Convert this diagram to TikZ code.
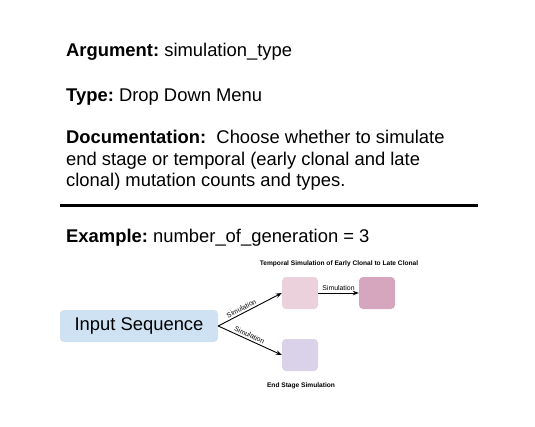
\documentclass[tikz,border=0pt]{standalone}
\usepackage{fontspec}
\setmainfont{Liberation Sans}
\usetikzlibrary{arrows.meta}
\definecolor{inblue}{HTML}{CFE2F3}
\definecolor{pinkA}{HTML}{EAD1DC}
\definecolor{pinkB}{HTML}{D5A6BD}
\definecolor{lilac}{HTML}{D9D2E9}
\begin{document}
\frenchspacing
\begin{tikzpicture}[x=1pt,y=-1pt,
  bigtxt/.style={anchor=base west,inner sep=0pt,font=\frenchspacing\fontsize{18.4}{21.7}\selectfont},
  box/.style={rounded corners=4pt,inner sep=0pt},
  arr/.style={-{Stealth[length=6pt,width=4.5pt]},line width=0.9pt},
  lbl/.style={font=\fontsize{6.9}{8}\selectfont,inner sep=0.3pt},
  ttl/.style={font=\bfseries\fontsize{6.6}{8}\selectfont,inner sep=0pt}]
\useasboundingbox (0,0) rectangle (535,426);
\node[bigtxt] (arg) at (66,56) {\textbf{Argument:} simulation\_type};
\node[bigtxt] (typ) at (66,101) {\textbf{Type:} Drop Down Menu};
\node[bigtxt] (doc1) at (66,143) {\textbf{Documentation:}\ \ Choose whether to simulate};
\node[bigtxt] (doc2) at (66,165) {end stage or temporal (early clonal and late};
\node[bigtxt] (doc3) at (66,186.7) {clonal) mutation counts and types.};
\coordinate (rl) at (60,205);
\coordinate (rr) at (478,205);
\draw[line width=3pt] (rl) -- (rr);
\node[bigtxt] (ex) at (66,242) {\textbf{Example:} number\_of\_generation = 3};
% diagram
\node[box,fill=inblue,minimum width=158pt,minimum height=32pt,font=\fontsize{18.4}{22}\selectfont] (inp) at (139,326) {Input Sequence};
\node[box,fill=pinkA,minimum width=36pt,minimum height=32pt] (t1) at (300,293) {};
\node[box,fill=pinkB,minimum width=36pt,minimum height=32pt] (t2) at (377,293) {};
\node[box,fill=lilac,minimum width=36pt,minimum height=32pt] (es) at (300,355) {};
\node[ttl] (ttop) at (339,264) {Temporal Simulation of Early Clonal to Late Clonal};
\node[ttl] (tbot) at (301,386) {End Stage Simulation};
\draw[arr] (inp.east) -- node[lbl,sloped,above=1.6pt,pos=0.4] {Simulation} (t1.west);
\draw[arr] (inp.east) -- node[lbl,sloped,above=1.6pt,pos=0.46] {Simulation} (es.west);
\draw[arr] (t1.east) -- node[lbl,above=2pt] {Simulation} (t2.west);
\end{tikzpicture}
\end{document}
